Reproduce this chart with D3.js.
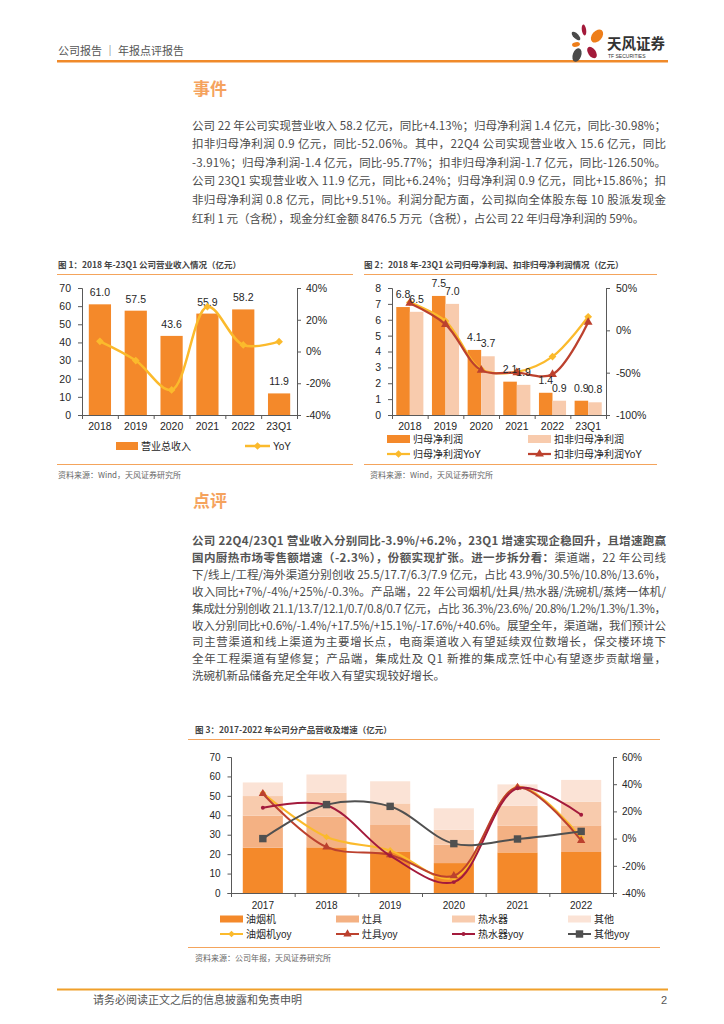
<!DOCTYPE html>
<html><head><meta charset="utf-8">
<script src="https://cdn.jsdelivr.net/npm/d3@7"></script>
<style>
html,body{margin:0;padding:0;background:#fff;}
svg{display:block;}
</style></head><body>
<svg id="page" width="724" height="1024"></svg>
<script>
// ---------- DATA ----------
const c1Categories = ["2018","2019","2020","2021","2022","23Q1"];
const c1Revenue = [61.0,57.5,43.6,55.9,58.2,11.9];
const c1Yoy = [6.4,-5.7,-24.2,28.2,4.1,6.2];
const c1LeftTicks = [0,10,20,30,40,50,60,70];
const c1RightTicks = [-40,-20,0,20,40];

const c2Categories = ["2018","2019","2020","2021","2022","23Q1"];
const c2NetProfit = [6.8,7.5,4.1,2.1,1.4,0.9];
const c2NetProfitExcl = [6.5,7.0,3.7,1.9,0.9,0.8];
const c2NetProfitYoy = [33,11,-46,-49,-31,16];
const c2NetProfitExclYoy = [32,7,-47,-50,-52,9.5];
const c2LeftTicks = [0,1,2,3,4,5,6,7,8];
const c2RightTicks = [-100,-50,0,50];

const c3Categories = ["2017","2018","2019","2020","2021","2022"];
const c3Hood = [23.3,23.5,21.4,15.4,20.9,21.1];
const c3Stove = [16.5,15.8,13.6,9.5,13.7,13.7];
const c3Heater = [10.1,12.3,11.1,7.7,10.3,12.1];
const c3Other = [7.0,9.4,11.4,11.0,11.0,11.3];
const c3HoodYoy = [33.5,1.2,-8.7,-29,38,0.6];
const c3StoveYoy = [33,-6.2,-12,-27.3,37.6,-1.4];
const c3HeaterYoy = [22.7,24.5,-12.6,-32,37,17.5];
const c3OtherYoy = [0,25,23.7,-3.7,-0.3,5.3];
const c3LeftTicks = [0,10,20,30,40,50,60,70];
const c3RightTicks = [-40,-20,0,20,40,60];

// ---------- STYLE ----------
const FONT = "'Liberation Sans', Arial, 'Noto Sans CJK SC', sans-serif";
const CJK = "'Noto Sans CJK SC', 'Liberation Sans', sans-serif";
const ORANGE = "#F4892A";
const LIGHT = "#F8CBAD";
const C_HOOD = "#F4892A", C_STOVE = "#F4B183", C_HEATER = "#F8CBAD", C_OTHER = "#FBE3D6";
const YELLOW = "#FBBA2C", RED = "#BC412E", CRIMSON = "#A31A3C", GRAY = "#505050";
const TXT = "#262626";

const svg = d3.select("#page");

// ---------- HEADER ----------
svg.append("text").attr("x",58).attr("y",55).attr("font-family",CJK).attr("font-size",11)
  .attr("fill","#555").text("公司报告 ｜ 年报点评报告");
svg.append("rect").attr("x",57).attr("y",60).attr("width",611).attr("height",2.5).attr("fill","#F08A2A");
// logo
const logo = svg.append("g");
[[584,30,2.2,5.5,-8,"#A31A3A"],[576,36,2.6,5.5,-45,"#4A4A4A"],[597,36,5,7.5,40,"#EE7E1A"],
 [576,44.5,4,2.3,-10,"#EE7E1A"],[577,55,4.2,7,20,"#4A4A4A"],[592,52.5,3.8,6.5,-35,"#A31A3A"]]
 .forEach(p=>logo.append("ellipse").attr("cx",p[0]).attr("cy",p[1]).attr("rx",p[2]).attr("ry",p[3])
   .attr("transform",`rotate(${p[4]},${p[0]},${p[1]})`).attr("fill",p[5]));
logo.append("text").attr("x",607).attr("y",49).attr("font-family",CJK).attr("font-weight","bold")
  .attr("font-size",14.5).attr("fill","#333").text("天风证券");
logo.append("text").attr("x",608).attr("y",58).attr("font-family",FONT).attr("font-size",5)
  .attr("fill","#333").text("TF SECURITIES");

// ---------- SECTION HEADS ----------
function head(t,y){
  svg.append("text").attr("x",193).attr("y",y).attr("font-family",CJK).attr("font-weight","bold")
   .attr("font-size",17).attr("fill","#F5A35E").text(t);
}
head("事件",95);
head("点评",507);

// ---------- PARAGRAPHS ----------
function para(lines,y0,dy){
  lines.forEach((segs,i)=>{
    const t = svg.append("text").attr("x",192).attr("y",y0+i*dy).attr("font-family",CJK)
      .attr("font-size",11.5).attr("fill","#4a4a4a");
    if(i<lines.length-1) t.attr("textLength",474).attr("lengthAdjust","spacing");
    segs.forEach(s=>{ const ts=t.append("tspan").text(s[0]); if(s[1]) ts.attr("font-weight","bold").attr("fill","#555"); });
  });
}
para([
 [["公司 22 年公司实现营业收入 58.2 亿元，同比+4.13%；归母净利润 1.4 亿元，同比-30.98%；"]],
 [["扣非归母净利润 0.9 亿元，同比-52.06%。其中，22Q4 公司实现营业收入 15.6 亿元，同比"]],
 [["-3.91%；归母净利润-1.4 亿元，同比-95.77%；扣非归母净利润-1.7 亿元，同比-126.50%。"]],
 [["公司 23Q1 实现营业收入 11.9 亿元，同比+6.24%；归母净利润 0.9 亿元，同比+15.86%；扣"]],
 [["非归母净利润 0.8 亿元，同比+9.51%。利润分配方面，公司拟向全体股东每 10 股派发现金"]],
 [["红利 1 元（含税），现金分红金额 8476.5 万元（含税），占公司 22 年归母净利润的 59%。"]]
],129.5,18.6);
para([
 [["公司 22Q4/23Q1 营业收入分别同比-3.9%/+6.2%，23Q1 增速实现企稳回升，且增速跑赢",1]],
 [["国内厨热市场零售额增速（-2.3%），份额实现扩张。进一步拆分看：",1],["渠道端，22 年公司线"]],
 [["下/线上/工程/海外渠道分别创收 25.5/17.7/6.3/7.9 亿元，占比 43.9%/30.5%/10.8%/13.6%，"]],
 [["收入同比+7%/-4%/+25%/-0.3%。产品端，22 年公司烟机/灶具/热水器/洗碗机/蒸烤一体机/"]],
 [["集成灶分别创收 21.1/13.7/12.1/0.7/0.8/0.7 亿元，占比 36.3%/23.6%/ 20.8%/1.2%/1.3%/1.3%，"]],
 [["收入分别同比+0.6%/-1.4%/+17.5%/+15.1%/-17.6%/+40.6%。展望全年，渠道端，我们预计公"]],
 [["司主营渠道和线上渠道为主要增长点，电商渠道收入有望延续双位数增长，保交楼环境下"]],
 [["全年工程渠道有望修复；产品端，集成灶及 Q1 新推的集成烹饪中心有望逐步贡献增量，"]],
 [["洗碗机新品储备充足全年收入有望实现较好增长。"]]
],545,16.9);

// ---------- FIGURE FRAME HELPERS ----------
function figTitle(t,x,y,x1,x2){
  svg.append("text").attr("x",x).attr("y",y).attr("font-family",CJK).attr("font-weight","bold")
    .attr("font-size",8.5).attr("fill","#444").text(t);
  svg.append("line").attr("x1",x1).attr("x2",x2).attr("y1",y+6.5).attr("y2",y+6.5)
    .attr("stroke","#F4A45C").attr("stroke-width",1);
}
function figSource(t,x,y,x1,x2){
  svg.append("line").attr("x1",x1).attr("x2",x2).attr("y1",y-13.5).attr("y2",y-13.5)
    .attr("stroke","#F4A45C").attr("stroke-width",1);
  svg.append("text").attr("x",x).attr("y",y).attr("font-family",CJK)
    .attr("font-size",8).attr("fill","#666").text(t);
}
function styleAxis(g,fs){
  g.select(".domain").attr("stroke","#595959");
  g.selectAll(".tick line").attr("stroke","#595959");
  g.selectAll(".tick text").attr("fill",TXT).attr("font-size",fs).attr("font-family",FONT);
}
function sym(type,size){ return d3.symbol().type(type).size(size)(); }
const curve = d3.curveCatmullRom.alpha(0.5);

// ---------- CHART 1 ----------
figTitle("图 1：2018 年-23Q1 公司营业收入情况（亿元）",58,268,57,353);
{
  const x0=82,x1=297,yb=415,yt=288;
  const x = d3.scaleBand().domain(c1Categories).range([x0,x1]).paddingInner(0.38).paddingOuter(0.19);
  const yL = d3.scaleLinear().domain([0,70]).range([yb,yt]);
  const yR = d3.scaleLinear().domain([-40,40]).range([yb,yt]);
  const g = svg.append("g");
  g.selectAll(".bar").data(c1Categories).join("rect")
    .attr("x",d=>x(d)).attr("width",x.bandwidth())
    .attr("y",(d,i)=>yL(c1Revenue[i])).attr("height",(d,i)=>yb-yL(c1Revenue[i])).attr("fill",ORANGE);
  const ax = g.append("g").attr("transform",`translate(${x0},0)`)
    .call(d3.axisLeft(yL).tickValues(c1LeftTicks).tickSize(4).tickPadding(7)); styleAxis(ax,10.5);
  const ar = g.append("g").attr("transform",`translate(${x1},0)`)
    .call(d3.axisRight(yR).tickValues(c1RightTicks).tickFormat(d=>d+"%").tickSize(4).tickPadding(5)); styleAxis(ar,10.5);
  const ab = g.append("g").attr("transform",`translate(0,${yb})`)
    .call(d3.axisBottom(d3.scaleLinear().domain([0,6]).range([x0,x1])).ticks(6).tickSize(4).tickSizeOuter(0).tickFormat(""));
  styleAxis(ab,10);
  const al = g.append("g").attr("transform",`translate(0,${yb})`)
    .call(d3.axisBottom(x).tickSize(0).tickPadding(8)); al.select(".domain").remove(); styleAxis(al,10.5);
  g.selectAll(".lab").data(c1Categories).join("text")
    .attr("x",d=>x(d)+x.bandwidth()/2).attr("y",(d,i)=>yL(c1Revenue[i])-8)
    .attr("text-anchor","middle").attr("font-family",FONT).attr("font-size",10.5).attr("fill",TXT)
    .text((d,i)=>c1Revenue[i].toFixed(1));
  const line = d3.line().x((d,i)=>x(c1Categories[i])+x.bandwidth()/2).y(d=>yR(d)).curve(curve);
  g.append("path").attr("d",line(c1Yoy)).attr("fill","none").attr("stroke",YELLOW).attr("stroke-width",2.5);
  g.selectAll(".mk").data(c1Yoy).join("path")
    .attr("d",sym(d3.symbolSquare,30))
    .attr("transform",(d,i)=>`translate(${x(c1Categories[i])+x.bandwidth()/2},${yR(d)}) rotate(45)`).attr("fill",YELLOW);
  // legend
  const ly=446;
  g.append("rect").attr("x",116).attr("y",ly-4).attr("width",22).attr("height",8).attr("fill",ORANGE);
  g.append("text").attr("x",141).attr("y",ly+3.5).attr("font-family",FONT).attr("font-size",10).attr("fill",TXT).text("营业总收入");
  g.append("line").attr("x1",245).attr("x2",270).attr("y1",ly).attr("y2",ly).attr("stroke",YELLOW).attr("stroke-width",2.5);
  g.append("path").attr("d",sym(d3.symbolSquare,30)).attr("transform",`translate(257.5,${ly}) rotate(45)`).attr("fill",YELLOW);
  g.append("text").attr("x",273).attr("y",ly+3.5).attr("font-family",FONT).attr("font-size",10).attr("fill",TXT).text("YoY");
}
figSource("资料来源：Wind，天风证券研究所",58,478,57,353);

// ---------- CHART 2 ----------
figTitle("图 2：2018 年-23Q1 公司归母净利润、扣非归母净利润情况（亿元）",364,268,364,657);
{
  const x0=392,x1=606,yb=415,yt=288;
  const x = d3.scaleBand().domain(c2Categories).range([x0,x1]).paddingInner(0.24).paddingOuter(0.12);
  const xs = d3.scaleBand().domain(["a","b"]).range([0,x.bandwidth()]);
  const yL = d3.scaleLinear().domain([0,8]).range([yb,yt]);
  const yR = d3.scaleLinear().domain([-100,50]).range([yb,yt]);
  const g = svg.append("g");
  const series=[[c2NetProfit,"a",ORANGE],[c2NetProfitExcl,"b",LIGHT]];
  series.forEach(s=>{
    g.selectAll(null).data(c2Categories).join("rect")
      .attr("x",d=>x(d)+xs(s[1])).attr("width",xs.bandwidth())
      .attr("y",(d,i)=>yL(s[0][i])).attr("height",(d,i)=>yb-yL(s[0][i])).attr("fill",s[2]);
  });
  const ax = g.append("g").attr("transform",`translate(${x0},0)`)
    .call(d3.axisLeft(yL).tickValues(c2LeftTicks).tickSize(4).tickPadding(7)); styleAxis(ax,10.5);
  const ar = g.append("g").attr("transform",`translate(${x1},0)`)
    .call(d3.axisRight(yR).tickValues(c2RightTicks).tickFormat(d=>d+"%").tickSize(4).tickPadding(6)); styleAxis(ar,10.5);
  const ab = g.append("g").attr("transform",`translate(0,${yb})`)
    .call(d3.axisBottom(d3.scaleLinear().domain([0,6]).range([x0,x1])).ticks(6).tickSize(4).tickSizeOuter(0).tickFormat(""));
  styleAxis(ab,10);
  const al = g.append("g").attr("transform",`translate(0,${yb})`)
    .call(d3.axisBottom(x).tickSize(0).tickPadding(8)); al.select(".domain").remove(); styleAxis(al,10.5);
  const cx = i=>x(c2Categories[i])+x.bandwidth()/2;
  const line = d3.line().x((d,i)=>cx(i)).y(d=>yR(d)).curve(curve);
  g.append("path").attr("d",line(c2NetProfitYoy)).attr("fill","none").attr("stroke",YELLOW).attr("stroke-width",2.25);
  g.selectAll(null).data(c2NetProfitYoy).join("path").attr("d",sym(d3.symbolSquare,30))
    .attr("transform",(d,i)=>`translate(${cx(i)},${yR(d)}) rotate(45)`).attr("fill",YELLOW);
  g.append("path").attr("d",line(c2NetProfitExclYoy)).attr("fill","none").attr("stroke",RED).attr("stroke-width",2.25);
  g.selectAll(null).data(c2NetProfitExclYoy).join("path").attr("d",sym(d3.symbolTriangle,34))
    .attr("transform",(d,i)=>`translate(${cx(i)},${yR(d)})`).attr("fill",RED);
  series.forEach(s=>{
    g.selectAll(null).data(c2Categories).join("text")
      .attr("x",d=>x(d)+xs(s[1])+xs.bandwidth()/2).attr("y",(d,i)=>yL(s[0][i])-9)
      .attr("text-anchor","middle").attr("font-family",FONT).attr("font-size",10.5).attr("fill",TXT)
      .text((d,i)=>s[0][i].toFixed(1));
  });
  // legend
  const r1=439, r2=454;
  g.append("rect").attr("x",387).attr("y",r1-4).attr("width",23).attr("height",8).attr("fill",ORANGE);
  g.append("text").attr("x",413).attr("y",r1+3.5).attr("font-family",FONT).attr("font-size",10).attr("fill",TXT).text("归母净利润");
  g.append("rect").attr("x",528).attr("y",r1-4).attr("width",23).attr("height",8).attr("fill",LIGHT);
  g.append("text").attr("x",554).attr("y",r1+3.5).attr("font-family",FONT).attr("font-size",10).attr("fill",TXT).text("扣非归母净利润");
  g.append("line").attr("x1",387).attr("x2",410).attr("y1",r2).attr("y2",r2).attr("stroke",YELLOW).attr("stroke-width",2.25);
  g.append("path").attr("d",sym(d3.symbolSquare,30)).attr("transform",`translate(398.5,${r2}) rotate(45)`).attr("fill",YELLOW);
  g.append("text").attr("x",413).attr("y",r2+3.5).attr("font-family",FONT).attr("font-size",10).attr("fill",TXT).text("归母净利润YoY");
  g.append("line").attr("x1",528).attr("x2",551).attr("y1",r2).attr("y2",r2).attr("stroke",RED).attr("stroke-width",2.25);
  g.append("path").attr("d",sym(d3.symbolTriangle,34)).attr("transform",`translate(539.5,${r2})`).attr("fill",RED);
  g.append("text").attr("x",554).attr("y",r2+3.5).attr("font-family",FONT).attr("font-size",10).attr("fill",TXT).text("扣非归母净利润YoY");
}
figSource("资料来源：Wind，天风证券研究所",370,478,364,657);

// ---------- CHART 3 ----------
figTitle("图 3：2017-2022 年公司分产品营收及增速（亿元）",195,733,188,660);
{
  const x0=231,x1=613,yb=893,yt=757;
  const x = d3.scaleBand().domain(c3Categories).range([x0,x1]).paddingInner(0.37).paddingOuter(0.185);
  const yL = d3.scaleLinear().domain([0,70]).range([yb,yt]);
  const yR = d3.scaleLinear().domain([-40,60]).range([yb,yt]);
  const g = svg.append("g");
  const keys=["hood","stove","heater","other"];
  const rows = c3Categories.map((c,i)=>({cat:c,hood:c3Hood[i],stove:c3Stove[i],heater:c3Heater[i],other:c3Other[i]}));
  const stack = d3.stack().keys(keys)(rows);
  const colors = {hood:C_HOOD,stove:C_STOVE,heater:C_HEATER,other:C_OTHER};
  stack.forEach(layer=>{
    g.selectAll(null).data(layer).join("rect")
      .attr("x",d=>x(d.data.cat)).attr("width",x.bandwidth())
      .attr("y",d=>yL(d[1])).attr("height",d=>yL(d[0])-yL(d[1])).attr("fill",colors[layer.key]);
  });
  const ax = g.append("g").attr("transform",`translate(${x0},0)`)
    .call(d3.axisLeft(yL).tickValues(c3LeftTicks).tickSize(3.5).tickPadding(7)); styleAxis(ax,10);
  const ar = g.append("g").attr("transform",`translate(${x1},0)`)
    .call(d3.axisRight(yR).tickValues(c3RightTicks).tickFormat(d=>d+"%").tickSize(4).tickPadding(5)); styleAxis(ar,10);
  const ab = g.append("g").attr("transform",`translate(0,${yb})`)
    .call(d3.axisBottom(d3.scaleLinear().domain([0,6]).range([x0,x1])).ticks(6).tickSize(4).tickSizeOuter(0).tickFormat(""));
  styleAxis(ab,10);
  const al = g.append("g").attr("transform",`translate(0,${yb})`)
    .call(d3.axisBottom(x).tickSize(0).tickPadding(8.5)); al.select(".domain").remove(); styleAxis(al,10);
  const cx = i=>x(c3Categories[i])+x.bandwidth()/2;
  const line = d3.line().x((d,i)=>cx(i)).y(d=>yR(d)).curve(curve);
  const lines=[
    [c3HoodYoy,YELLOW,d3.symbolSquare,22,45],
    [c3StoveYoy,RED,d3.symbolTriangle,30,0],
    [c3HeaterYoy,CRIMSON,d3.symbolCircle,12,0],
    [c3OtherYoy,GRAY,d3.symbolSquare,55,0]];
  lines.forEach(L=>{
    g.append("path").attr("d",line(L[0])).attr("fill","none").attr("stroke",L[1]).attr("stroke-width",2);
    g.selectAll(null).data(L[0]).join("path").attr("d",sym(L[2],L[3]))
      .attr("transform",(d,i)=>`translate(${cx(i)},${yR(d)}) rotate(${L[4]})`).attr("fill",L[1]);
  });
  // legend
  const r1=919,r2=934, cols=[220,336,452,568];
  const names1=["油烟机","灶具","热水器","其他"], cols1=[C_HOOD,C_STOVE,C_HEATER,C_OTHER];
  const names2=["油烟机yoy","灶具yoy","热水器yoy","其他yoy"];
  cols.forEach((cx0,k)=>{
    g.append("rect").attr("x",cx0).attr("y",r1-3.5).attr("width",23).attr("height",7).attr("fill",cols1[k]);
    g.append("text").attr("x",cx0+26).attr("y",r1+3.5).attr("font-family",FONT).attr("font-size",10).attr("fill",TXT).text(names1[k]);
    const L=lines[k];
    g.append("line").attr("x1",cx0).attr("x2",cx0+23).attr("y1",r2).attr("y2",r2).attr("stroke",L[1]).attr("stroke-width",2);
    g.append("path").attr("d",sym(L[2],L[3])).attr("transform",`translate(${cx0+11.5},${r2}) rotate(${L[4]})`).attr("fill",L[1]);
    g.append("text").attr("x",cx0+26).attr("y",r2+3.5).attr("font-family",FONT).attr("font-size",10).attr("fill",TXT).text(names2[k]);
  });
}
figSource("资料来源：公司年报，天风证券研究所",195,961,188,660);

// ---------- FOOTER ----------
svg.append("rect").attr("x",57).attr("y",988.5).attr("width",611).attr("height",2).attr("fill","#F0A02A");
svg.append("text").attr("x",93).attr("y",1004).attr("font-family",CJK).attr("font-size",11).attr("fill","#555")
  .text("请务必阅读正文之后的信息披露和免责申明");
svg.append("text").attr("x",667).attr("y",1004).attr("text-anchor","end").attr("font-family",FONT).attr("font-size",11).attr("fill","#555").text("2");
</script>
</body></html>
